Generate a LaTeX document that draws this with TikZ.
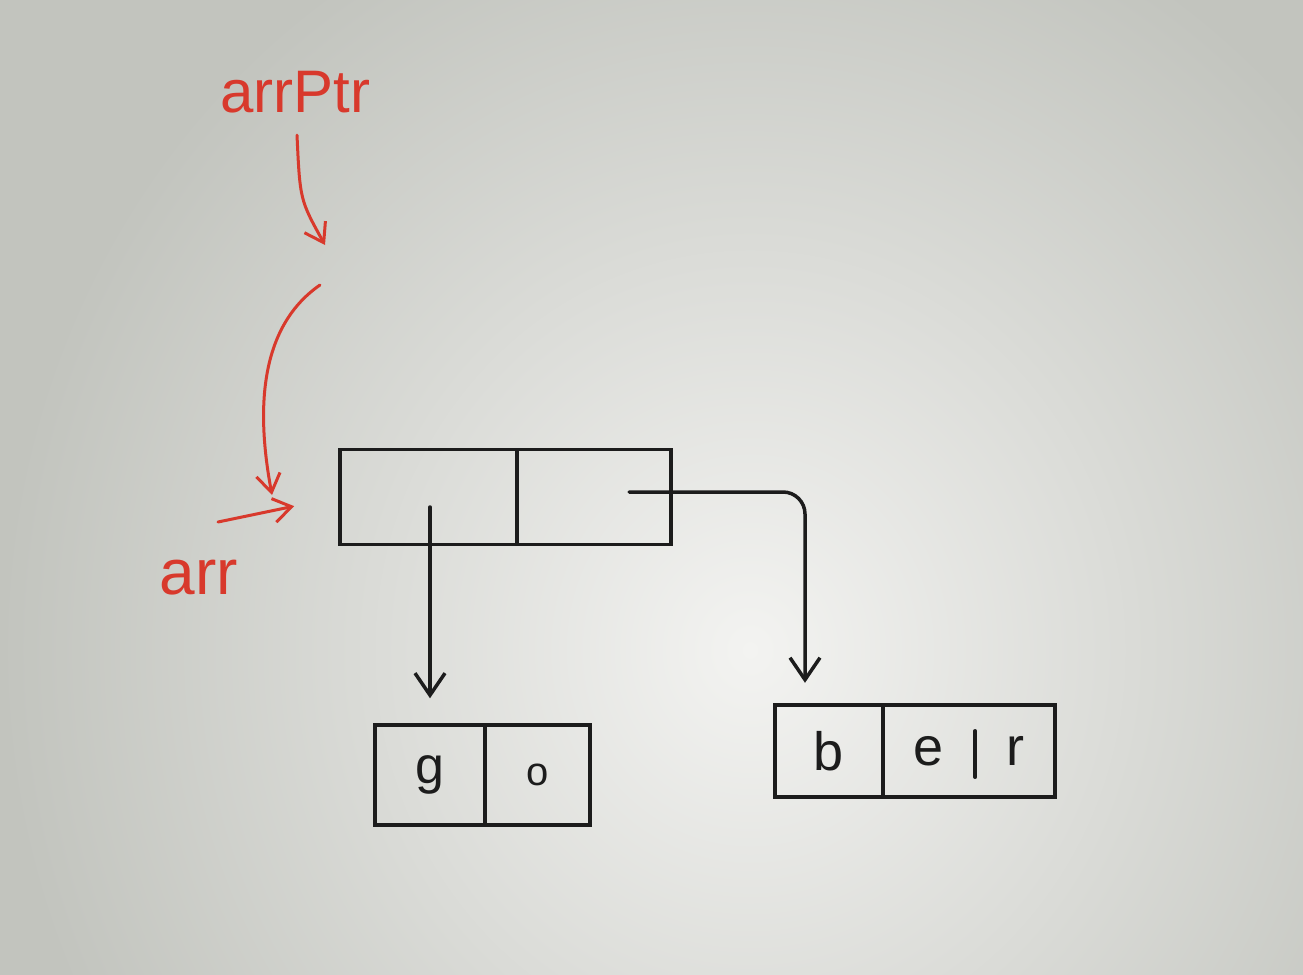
\documentclass[tikz,border=0pt]{standalone}
\usepackage{fontspec}
\setmainfont{Liberation Sans}
\usetikzlibrary{arrows.meta,fit,calc}
\definecolor{ink}{HTML}{1C1C1C}
\definecolor{pen}{HTML}{D8392C}
\definecolor{bgin}{HTML}{F3F3F1}
\definecolor{bgout}{HTML}{C2C4BE}
\begin{document}
\begin{tikzpicture}[x=1pt,y=-1pt,
  cell/.style={draw=ink, line width=3.5pt, minimum height=95pt, inner sep=0pt,
    font=\fontsize{52}{56}\selectfont, text=ink},
  bare/.style={inner sep=0pt, minimum height=92pt, font=\fontsize{54}{58}\selectfont, text=ink},
  inkline/.style={draw=ink, line width=3.5pt, line cap=round},
  inkarrow/.style={inkline, -{Straight Barb[length=22pt,width=30pt,line width=3.5pt]}},
  penarrow/.style={draw=pen, line width=3pt, line cap=round,
    -{Straight Barb[length=18pt,width=24pt,line width=3pt]}},
  penlabel/.style={text=pen, font=\fontsize{60}{64}\selectfont, inner sep=0pt}]
\useasboundingbox (0,0) rectangle (1303,974);
\begin{scope}
  \clip (0,0) rectangle (1303,974);
  \shade[inner color=bgin, outer color=bgout] (0,-150) rectangle (1500,1450);
\end{scope}

% labels
\node[penlabel] (ptrlab) at (295,92) {arrPtr};
\node[penlabel, font=\fontsize{64}{68}\selectfont] (arrlab) at (199,578) {arr};

% top array
\node[cell, minimum width=177pt] (a1) at (428.5,497) {};
\node[cell, minimum width=154pt] (a2) at (594,497) {};

% bottom-left array
\node[cell, minimum width=110pt, minimum height=100pt] (g) at (430,775) {g};
\node[cell, minimum width=105pt, minimum height=100pt] (o) at (537.5,775) {\fontsize{40}{44}\selectfont o};

% bottom-right array
\node[bare, minimum width=108pt] (b) at (829,751) {b};
\node[bare, minimum width=92pt] (e) at (929,751) {e};
\node[bare, minimum width=80pt] (r) at (1015,751) {r};
\node[inkline, fit=(b)(r), inner sep=0pt] (ber) {};
\draw[inkline] (b.north east) -- (b.south east);
\draw[inkline] ($(e.north east)+(0,26)$) -- ($(e.south east)+(0,-20)$);

% red pointer arrows
\coordinate (ptrend) at (325,245);
\coordinate (c0) at (320,285);
\coordinate (c1) at (272,495);
\coordinate (q0) at (218,522);
\draw[penarrow] ($(ptrlab.south)+(2,22)$) .. controls (300,200) .. (ptrend);
\draw[penarrow] (c0) .. controls (255,330) and (258,420) .. (c1);
\draw[penarrow, shorten >=45pt] (q0) -- (a1.west);

% black pointer arrows
\draw[inkarrow, shorten >=25pt] ($(a1.center)+(1.5,10)$) -- (g.north);
\draw[inkarrow, rounded corners=22pt] ($(a2.center)+(35,-5)$) -| ($(b.north)+(-24,-22)$);
\end{tikzpicture}
\end{document}
